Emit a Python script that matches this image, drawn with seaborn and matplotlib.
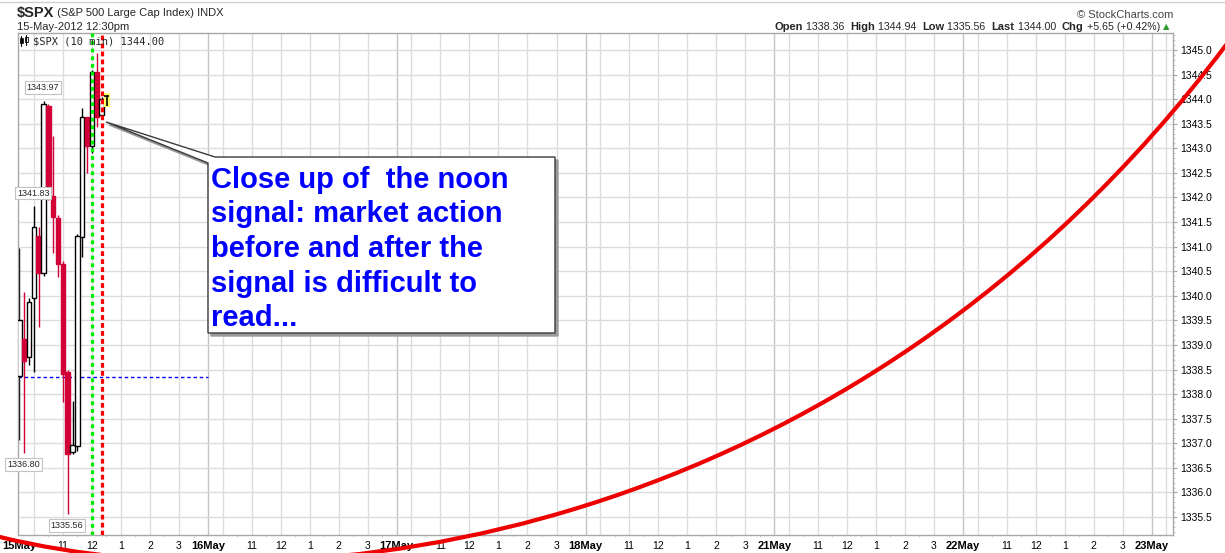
import numpy as np
import pandas as pd
import matplotlib
matplotlib.use("Agg")
import matplotlib.pyplot as plt
import seaborn as sns
from matplotlib.patches import Polygon, Rectangle, PathPatch
from matplotlib.path import Path

# ---------------- data ----------------
bar_times = ["09:30", "09:40", "09:50", "10:00", "10:10", "10:20", "10:30", "10:40", "10:50",
             "11:00", "11:10", "11:20", "11:30", "11:40", "11:50", "12:00", "12:10", "12:20"]
opens  = [1338.36, 1339.12, 1338.76, 1339.96, 1341.22, 1340.46, 1343.86, 1342.03, 1341.58,
          1340.65, 1338.45, 1336.82, 1336.95, 1341.20, 1343.64, 1343.05, 1344.55, 1343.68]
highs  = [1340.97, 1340.08, 1339.95, 1341.83, 1341.40, 1343.97, 1343.90, 1343.25, 1341.65,
          1340.70, 1338.50, 1337.86, 1341.25, 1343.82, 1343.64, 1344.60, 1344.94, 1344.05]
lows   = [1337.07, 1336.80, 1338.60, 1338.45, 1339.37, 1340.40, 1341.95, 1340.87, 1340.38,
          1337.84, 1335.56, 1336.78, 1336.85, 1340.79, 1342.50, 1342.90, 1343.43, 1343.60]
closes = [1339.51, 1338.67, 1339.87, 1341.40, 1340.46, 1343.90, 1342.03, 1341.60, 1340.65,
          1338.41, 1336.78, 1336.97, 1341.22, 1343.64, 1343.05, 1344.55, 1343.64, 1344.00]
prev_close = 1338.35

day_labels = ["15May", "16May", "17May", "18May", "21May", "22May", "23May"]
hour_times = ["10:00", "11:00", "12:00", "13:00", "14:00", "15:00"]
hour_labels = ["", "11", "12", "1", "2", "3"]
y_ticks = [1335.5, 1336.0, 1336.5, 1337.0, 1337.5, 1338.0, 1338.5, 1339.0, 1339.5, 1340.0,
           1340.5, 1341.0, 1341.5, 1342.0, 1342.5, 1343.0, 1343.5, 1344.0, 1344.5, 1345.0]
signal_times = ["12:00", "12:20"]
marked = [(5, "high"), (3, "high"), (1, "low"), (10, "low")]

header_values = [("Open", "1338.36"), ("High", "1344.94"), ("Low", "1335.56"),
                 ("Last", "1344.00"), ("Chg", "+5.65 (+0.42%)")]
callout_lines = ["Close up of  the noon", "signal: market action", "before and after the",
                 "signal is difficult to", "read..."]

# ---------------- helpers ----------------
DAY_LEN = 6.5  # trading hours per session


def tpos(day, hhmm):
    h, m = map(int, hhmm.split(":"))
    return day * DAY_LEN + (h * 60 + m - 570) / 60.0


df = pd.DataFrame({"t": bar_times, "o": opens, "h": highs, "l": lows, "c": closes})
df["x"] = [tpos(0, t) for t in df["t"]]
df["prev"] = df["c"].shift(1).fillna(prev_close)

RED = "#d10036"
BLACK = "#000000"

sns.set_style("white")
plt.rcParams["font.family"] = ["Liberation Sans", "DejaVu Sans"]

W, H = 1225, 553
fig = plt.figure(figsize=(W / 100, H / 100), dpi=100)
ax = fig.add_axes([18 / W, 1 - 535 / H, (1173 - 18) / W, (535 - 33) / H])

XLIM = (-0.045, 39.73)
YLIM = (1335.134, 1345.346)

# grid
day_x = [d * DAY_LEN for d in range(len(day_labels))]
hour_x = [tpos(d, t) for d in range(len(day_labels)) for t in hour_times]
ax.vlines(hour_x, 1335.0, 1346.0, colors="#dcdcdc", lw=1, zorder=0)
ax.vlines(day_x[1:], 1335.0, 1346.0, colors="#c4c4c4", lw=1, zorder=0)
ax.hlines(y_ticks, -1, 41, colors="#dcdcdc", lw=1, zorder=0)

# previous close
ax.hlines(prev_close, XLIM[0], day_x[1], colors="#0000ff", lw=1.0,
          linestyles=(0, (2.5, 2)), zorder=1)

# candles
bw = 0.152
for _, r in df.iterrows():
    col = BLACK if r.c >= r.prev else RED
    filled = r.c < r.o
    ax.vlines(r.x, r.l, r.h, colors=col, lw=1.0, zorder=2)
    lo, hi = min(r.o, r.c), max(r.o, r.c)
    ax.bar(r.x, max(hi - lo, 0.02), bottom=lo, width=bw,
           color=(col if filled else "white"), edgecolor=col, linewidth=1.0, zorder=3)

# signal lines
ax.axvline(tpos(0, signal_times[0]), color="#00ee00", lw=2.3,
           linestyle=(0, (1.2, 1.2)), zorder=4)
ax.axvline(tpos(0, signal_times[1]), color="#ff0000", lw=2.3,
           linestyle=(0, (1.5, 1.0)), zorder=4)

# last price marker
lx = df["x"].iloc[-1]
lc = df["c"].iloc[-1]
ax.add_patch(Rectangle((lx + 0.085, lc - 0.16), 0.2, 0.28, fc="#ffff66", ec="none", zorder=5))
ax.hlines(lc + 0.07, lx + 0.1, lx + 0.26, colors="black", lw=1.2, zorder=6)
ax.vlines(lx + 0.18, lc - 0.14, lc + 0.07, colors="black", lw=1.2, zorder=6)

# high / low labels
for idx, kind in marked:
    val = df["h"].iloc[idx] if kind == "high" else df["l"].iloc[idx]
    ax.annotate(f"{val:.2f}", xy=(df["x"].iloc[idx], val),
                xytext=(-0.5, 6 if kind == "high" else -5), textcoords="offset points",
                ha="center", va="bottom" if kind == "high" else "top", fontsize=6.5,
                bbox=dict(boxstyle="square,pad=0.22", fc="white", ec="#c3c3c3", lw=0.8),
                zorder=7)

# axes styling
for s in ax.spines.values():
    s.set_color("#a8a8a8")
    s.set_linewidth(1)
ax.yaxis.tick_right()
ax.set_yticks(y_ticks)
ax.set_yticklabels([f"{v:.1f}" for v in y_ticks])
ax.set_yticks(np.arange(1335.2, 1345.35, 0.1), minor=True)
ax.tick_params(axis="y", which="major", length=3, width=0.8, color="#a0a0a0", pad=2,
               labelsize=7.5, labelcolor="black")
ax.tick_params(axis="y", which="minor", length=1.5, width=0.6, color="#c0c0c0", right=True)

xt = []
xl = []
for d, dl in enumerate(day_labels):
    xt.append(tpos(d, "09:30"))
    xl.append(dl)
    for t, hl in zip(hour_times, hour_labels):
        if tpos(d, t) < XLIM[1]:
            xt.append(tpos(d, t))
            xl.append(hl)
ax.set_xticks(xt)
ax.set_xticklabels(xl)
ax.set_xticks(np.arange(0, 39.7, 0.5), minor=True)
ax.tick_params(axis="x", which="major", length=3, width=0.8, color="#a0a0a0", pad=1.5,
               labelsize=7.5, labelcolor="black")
ax.tick_params(axis="x", which="minor", length=1.5, width=0.6, color="#c8c8c8", bottom=True)
for lab in ax.get_xticklabels():
    if lab.get_text() in day_labels:
        lab.set_fontweight("bold")
        lab.set_fontsize(8)

ax.set_xlim(*XLIM)
ax.set_ylim(*YLIM)

# ---------------- overlay (pixel coordinates) ----------------
ov = fig.add_axes([0, 0, 1, 1], zorder=10)
ov.set_xlim(0, W)
ov.set_ylim(H, 0)
ov.axis("off")
ov.patch.set_alpha(0)

ov.plot([0, W], [2, 2], color="#cfcfcf", lw=1)

# header texts
fig.canvas.draw()
rend = fig.canvas.get_renderer()


def seq(x, y, parts):
    for s, kw in parts:
        t = ov.text(x, y, s, va="center", ha="left", **kw)
        x += t.get_window_extent(rend).width
    return x


seq(17, 13, [("$SPX", dict(fontsize=10.5, fontweight="bold")),
             (" (S&P 500 Large Cap Index) INDX", dict(fontsize=8))])
ov.text(17, 27, "15-May-2012 12:30pm", fontsize=8, va="center")
ov.text(33, 41, "$SPX (10 min) 1344.00", fontsize=7.5, va="center", family="DejaVu Sans Mono")
# tiny candle icon
ov.plot([21, 21], [36, 46], color="black", lw=0.8)
ov.add_patch(Rectangle((19.5, 38), 3, 5, fc="black", ec="black", lw=0.5))
ov.plot([26, 26], [35, 45], color="black", lw=0.8)
ov.add_patch(Rectangle((24.5, 37), 3, 5, fc="white", ec="black", lw=0.6))

ov.text(1173, 15, "© StockCharts.com", fontsize=8, va="center", ha="right", color="#444444")

parts = []
for i, (k, v) in enumerate(header_values):
    parts.append((k, dict(fontsize=8, fontweight="bold")))
    parts.append((" " + v + ("  " if i < len(header_values) - 1 else " "), dict(fontsize=7.7)))
xx = 0
for s, kw in parts:
    t = ov.text(0, -100, s, **kw)
    xx += t.get_window_extent(rend).width
    t.remove()
end = seq(1163 - xx, 27, parts)
ov.text(end, 27, "▲", fontsize=6, va="center", color="#2a9a2a", family="DejaVu Sans")

# callout box with pointer and shadow
box = np.array([(215, 157), (555, 157), (555, 333), (208, 333), (208, 163), (106, 122)])
ov.add_patch(Polygon(box + np.array([3, 3]), closed=True, fc="#9a9a9a", ec="#9a9a9a", lw=1))
ov.add_patch(Polygon(box, closed=True, fc="white", ec="#3a3a3a", lw=1))
for i, line in enumerate(callout_lines):
    ov.text(211, 188 + i * 34.5, line, fontsize=21, fontweight="bold", color="#0000ff",
            va="baseline", ha="left")

# hand-drawn red curve
verts = [(0, 537), (300, 610), (850, 545), (1226, 45)]
codes = [Path.MOVETO, Path.CURVE4, Path.CURVE4, Path.CURVE4]
ov.add_patch(PathPatch(Path(verts, codes), fc="none", ec="#ee0000", lw=3, capstyle="round",
                       clip_on=False))

fig.savefig("out.png", dpi=100)
